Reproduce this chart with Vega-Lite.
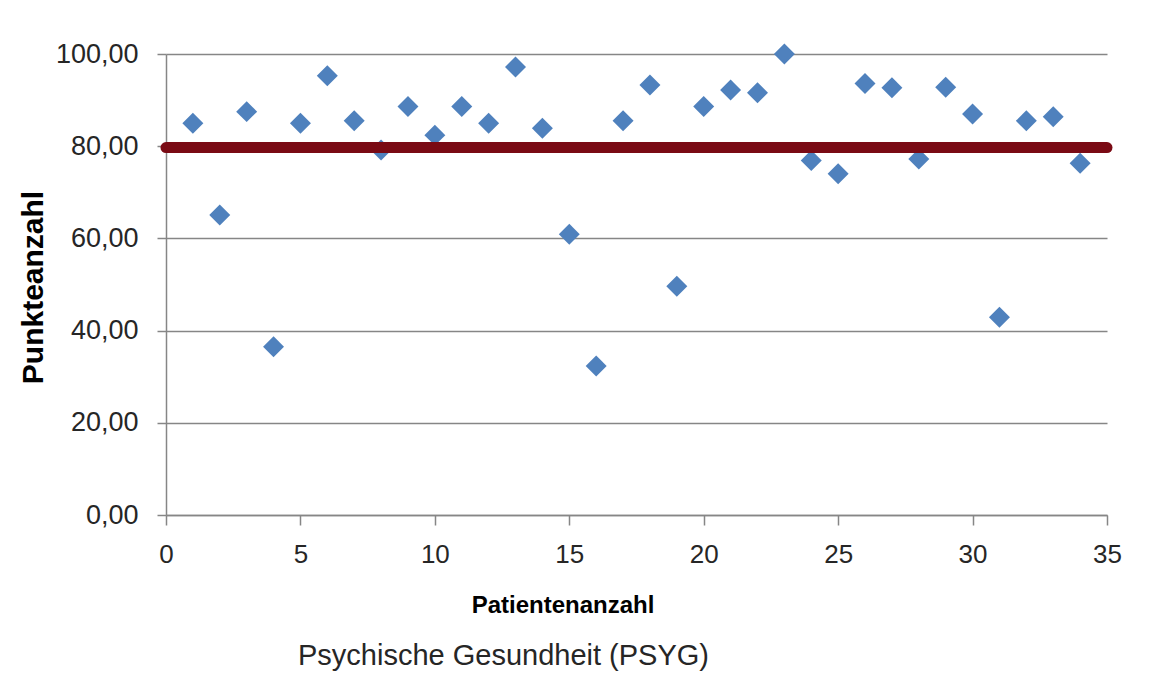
{
  "$schema": "https://vega.github.io/schema/vega-lite/v6.json",
  "width": 941,
  "height": 461,
  "autosize": {"type": "none"},
  "padding": {"left": 166, "top": 54, "right": 48, "bottom": 183},
  "background": "white",
  "title": {
    "text": "Psychische Gesundheit  (PSYG)",
    "orient": "bottom",
    "anchor": "middle",
    "frame": "group",
    "baseline": "alphabetic",
    "offset": 48,
    "dx": -133,
    "font": "Liberation Sans",
    "fontSize": 29,
    "fontWeight": "normal",
    "color": "#262626"
  },
  "config": {
    "view": {"stroke": null},
    "axis": {
      "labelFont": "Liberation Sans",
      "titleFont": "Liberation Sans",
      "labelColor": "#262626",
      "titleColor": "#000000",
      "domainColor": "#868686",
      "tickColor": "#868686",
      "gridColor": "#868686",
      "domainWidth": 1.5,
      "tickWidth": 1.5,
      "gridWidth": 1.5
    }
  },
  "datasets": {
    "points": [
      {"patient": 1, "score": 85.0},
      {"patient": 2, "score": 65.1},
      {"patient": 3, "score": 87.5},
      {"patient": 4, "score": 36.5},
      {"patient": 5, "score": 85.0},
      {"patient": 6, "score": 95.3},
      {"patient": 7, "score": 85.5},
      {"patient": 8, "score": 79.2},
      {"patient": 9, "score": 88.6},
      {"patient": 10, "score": 82.4},
      {"patient": 11, "score": 88.6},
      {"patient": 12, "score": 85.0},
      {"patient": 13, "score": 97.2},
      {"patient": 14, "score": 83.9},
      {"patient": 15, "score": 60.9},
      {"patient": 16, "score": 32.3},
      {"patient": 17, "score": 85.5},
      {"patient": 18, "score": 93.3},
      {"patient": 19, "score": 49.6},
      {"patient": 20, "score": 88.6},
      {"patient": 21, "score": 92.2},
      {"patient": 22, "score": 91.6},
      {"patient": 23, "score": 100.0},
      {"patient": 24, "score": 76.9},
      {"patient": 25, "score": 74.0},
      {"patient": 26, "score": 93.6},
      {"patient": 27, "score": 92.7},
      {"patient": 28, "score": 77.2},
      {"patient": 29, "score": 92.8},
      {"patient": 30, "score": 87.0},
      {"patient": 31, "score": 42.9},
      {"patient": 32, "score": 85.5},
      {"patient": 33, "score": 86.4},
      {"patient": 34, "score": 76.3}
    ],
    "ref": [
      {"patient": 0, "score": 79.7},
      {"patient": 35, "score": 79.7}
    ]
  },
  "layer": [
    {
      "data": {"name": "points"},
      "mark": {"type": "point", "shape": "diamond", "filled": true, "size": 440, "color": "#4f81bd", "opacity": 1},
      "encoding": {
        "x": {
          "field": "patient",
          "type": "quantitative",
          "scale": {"domain": [0, 35], "nice": false, "zero": false},
          "axis": {
            "values": [0, 5, 10, 15, 20, 25, 30, 35],
            "grid": false,
            "tickSize": 10,
            "labelFontSize": 26,
            "labelPadding": 16,
            "labelFlush": false,
            "title": "Patientenanzahl",
            "titleFontSize": 24,
            "titleFontWeight": "bold",
            "titleX": 396.5,
            "titleY": 97,
            "titleAlign": "center",
            "titleBaseline": "alphabetic"
          }
        },
        "y": {
          "field": "score",
          "type": "quantitative",
          "scale": {"domain": [0, 100], "nice": false},
          "axis": {
            "values": [0, 20, 40, 60, 80, 100],
            "grid": true,
            "tickSize": 9,
            "labelFontSize": 27,
            "labelPadding": 19,
            "labelFlush": false,
            "labelExpr": "replace(format(datum.value, '.2f'), '.', ',')",
            "title": "Punkteanzahl",
            "titleFontSize": 30,
            "titleFontWeight": "bold",
            "titleX": -124,
            "titleY": 233,
            "titleAngle": -90,
            "titleAlign": "center",
            "titleBaseline": "alphabetic"
          }
        }
      }
    },
    {
      "data": {"name": "ref"},
      "mark": {"type": "line", "color": "#7a0a14", "strokeWidth": 11, "strokeCap": "round"},
      "encoding": {
        "x": {"field": "patient", "type": "quantitative"},
        "y": {"field": "score", "type": "quantitative"}
      }
    }
  ]
}
